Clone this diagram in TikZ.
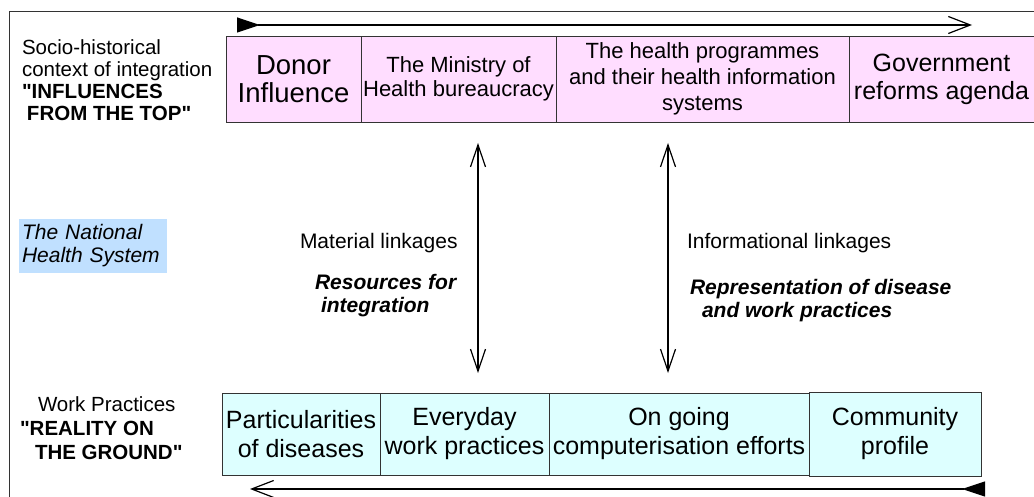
\documentclass[tikz,border=0pt]{standalone}
\usepackage{fontspec}
\setmainfont{Liberation Sans}
\usetikzlibrary{positioning,arrows.meta}
\definecolor{toppink}{HTML}{FFDDFF}
\definecolor{lowcyan}{HTML}{DDFFFF}
\definecolor{nhsblue}{HTML}{C0E0FF}

\begin{document}
\begin{tikzpicture}[x=1pt,y=-1pt,every node/.style={inner sep=0pt,outer sep=0pt},
topbox/.style={draw=black!80,line width=0.8pt,fill=toppink,align=center,minimum height=86pt,inner xsep=1pt,font=\fontsize{25}{28}\selectfont},
lowbox/.style={draw=black!80,line width=0.8pt,fill=lowcyan,align=center,minimum height=82pt,inner xsep=1pt,font=\fontsize{25}{29}\selectfont},
sidelbl/.style={align=left,font=\fontsize{20.5}{22}\selectfont},
linklbl/.style={align=left,font=\fontsize{21}{23}\selectfont},
flow/.style={line width=1.2pt,{Triangle[reversed,length=23pt,width=15pt]}-{Straight Barb[length=22pt,width=17pt]}},
linkage/.style={line width=1.2pt,{Straight Barb[length=22pt,width=15pt]}-{Straight Barb[length=22pt,width=15pt]}}]
\useasboundingbox (0,0) rectangle (1034,497);
\clip (0,0) rectangle (1034,497);
\draw[line width=1pt,black!80] (9,500) -- (9,12) -- (1040,12);
\node[topbox,minimum width=135pt,anchor=north west,font=\fontsize{27.5}{28}\selectfont] (donor) at (226,36) {Donor\\Influence};
\node[topbox,minimum width=195pt,right=0pt of donor,font=\fontsize{22}{24}\selectfont] (ministry) {The Ministry of\\Health bureaucracy};
\node[topbox,minimum width=293pt,right=0pt of ministry,font=\fontsize{22}{26}\selectfont] (hisprog) {The health programmes\\and their health information\\systems};
\node[topbox,minimum width=185pt,right=0pt of hisprog] (reforms) {Government\\reforms agenda};
\node[lowbox,minimum width=158pt,anchor=north west] (partic) at (222,393) {Particularities\\of diseases};
\node[lowbox,minimum width=169pt,right=0pt of partic] (everyday) {Everyday\\work practices};
\node[lowbox,minimum width=260pt,right=0pt of everyday] (computer) {On going\\computerisation efforts};
\node[lowbox,minimum width=172pt,minimum height=84pt,right=0pt of computer] (community) {Community\\profile};
\node[sidelbl,anchor=north west] (context) at (22,40) {Socio-historical\\context of integration\\\textbf{\textquotedbl INFLUENCES}\\\textbf{\hspace*{5pt}FROM THE TOP\textquotedbl}};
\node[sidelbl,anchor=north west,fill=nhsblue,text width=142pt,minimum height=54pt,inner xsep=3pt,font=\fontsize{21}{23}\selectfont\itshape] (nhs) at (19,219) {The National\\Health System};
\node[sidelbl,anchor=north west,font=\fontsize{20.5}{24}\selectfont] (ground) at (20,397) {\hspace*{18pt}Work Practices\\\textbf{\textquotedbl REALITY ON}\\\textbf{\hspace*{15pt}THE GROUND\textquotedbl}};
\node[linklbl,anchor=west] (material) at (300,243) {Material linkages};
\node[linklbl,anchor=north west,font=\fontsize{21}{23}\selectfont\bfseries\itshape] (resources) at (315,274) {Resources for\\\hspace*{6pt}integration};
\node[linklbl,anchor=west] (informational) at (687,243) {Informational linkages};
\node[linklbl,anchor=north west,font=\fontsize{21}{23}\selectfont\bfseries\itshape] (representation) at (690,279) {Representation of disease\\\hspace*{12pt}and work practices};
\coordinate (flowstart) at (237,25);
\coordinate (flowend) at (972,25);
\coordinate (backstart) at (985,489);
\coordinate (backend) at (250,489);
\coordinate (mattop) at (478,143);
\coordinate (matbot) at (478,373);
\coordinate (inftop) at (668,143);
\coordinate (infbot) at (668,373);
\draw[flow] (flowstart) -- (flowend);
\draw[flow] (backstart) -- (backend);
\draw[linkage] (mattop) -- (matbot);
\draw[linkage] (inftop) -- (infbot);
\end{tikzpicture}
\end{document}
